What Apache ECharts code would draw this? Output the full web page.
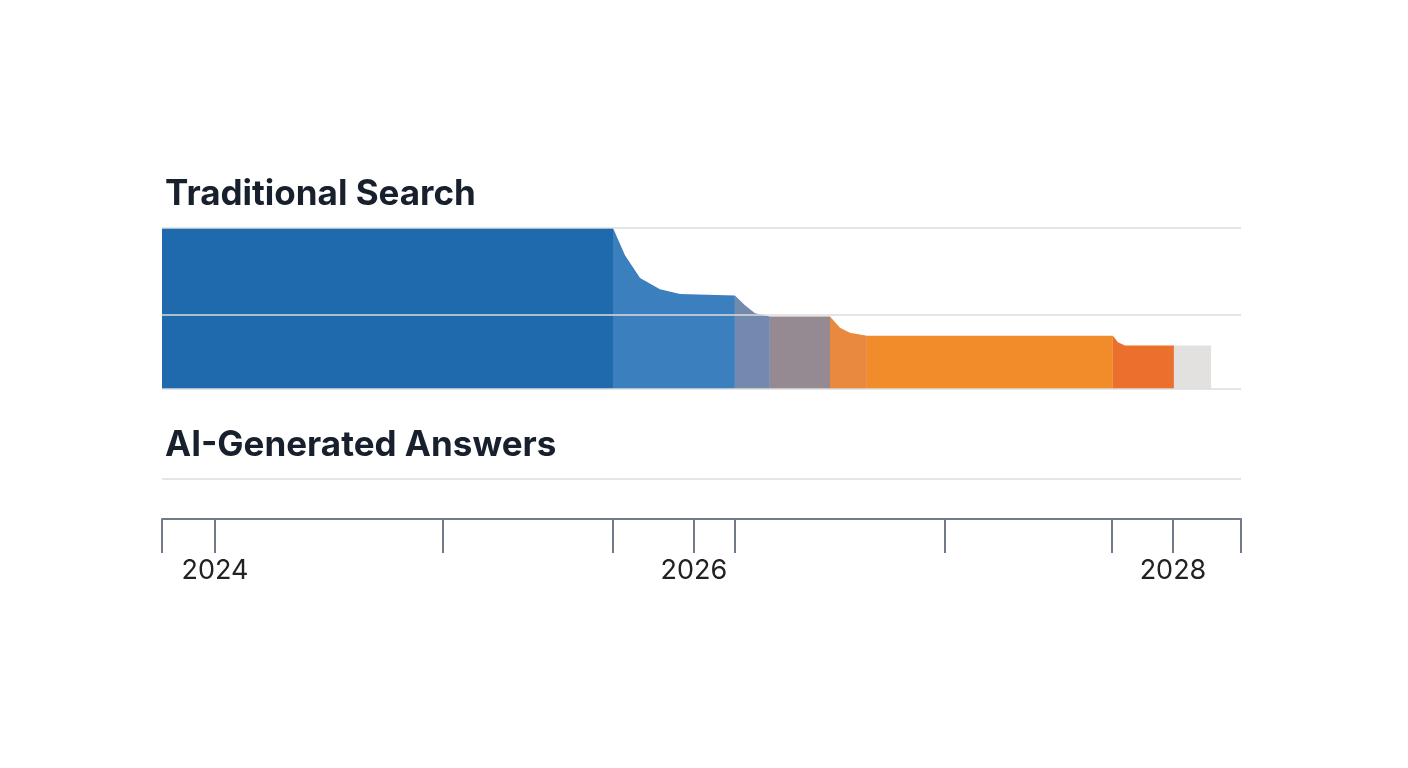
<!DOCTYPE html>
<html>
<head>
<meta charset="utf-8">
<title>Traditional Search vs AI-Generated Answers</title>
<script src="https://cdn.jsdelivr.net/npm/echarts@6/dist/echarts.min.js"></script>
<style>html,body{margin:0;background:#fff}</style>
</head>
<body>
<div id="main" style="width:1408px;height:768px;"></div>
<script type="text/javascript">
// share of traditional search (0-100) over time (years), one array per coloured stage
var stageBlue    = [[2023.779, 100], [2025.662, 100]];
var stageDrop1   = [[2025.662, 100], [2025.712, 83], [2025.775, 69], [2025.858, 62], [2025.942, 59], [2026.171, 58]];
var stageDrop2   = [[2026.171, 58], [2026.213, 52], [2026.255, 47], [2026.317, 45]];
var stageGrey    = [[2026.317, 45], [2026.568, 45]];
var stageDrop3   = [[2026.568, 45], [2026.610, 38], [2026.651, 35], [2026.722, 33]];
var stageOrange  = [[2026.722, 33], [2027.749, 33]];
var stageDrop4   = [[2027.749, 33], [2027.770, 29], [2027.800, 27], [2028.004, 27]];
var stageFaded   = [[2028.004, 27], [2028.159, 27]];
var stageColors  = ['#1f69ad', '#3b7fbf', '#7389ad', '#958a91', '#e8893f', '#f08c2a', '#eb6f2d', '#e3e1df'];

var tickYears  = [2023.779, 2024, 2024.952, 2025.662, 2026, 2026.171, 2027.048, 2027.745, 2028, 2028.284];
var labelYears = [2024, 2026, 2028];
var xMin = 2023.779, xMax = 2028.284;

var stages = [stageBlue, stageDrop1, stageDrop2, stageGrey, stageDrop3, stageOrange, stageDrop4, stageFaded];

var series = stages.map(function (d, i) {
    return {
        type: 'line', xAxisIndex: 0, yAxisIndex: 0, data: d,
        symbol: 'none', lineStyle: { width: 0 },
        areaStyle: { color: stageColors[i], opacity: 1 },
        silent: true, z: 3
    };
});
// horizontal guide lines in the top panel
series.push({
    type: 'line', xAxisIndex: 0, yAxisIndex: 0, data: [],
    markLine: {
        silent: true, symbol: 'none', label: { show: false },
        lineStyle: { color: '#dcdcdc', type: 'solid', width: 1.5 },
        data: [{ yAxis: 0 }, { yAxis: 46 }, { yAxis: 100 }]
    }, z: 1
});

var myChart = echarts.init(document.getElementById('main'));
myChart.setOption({
    backgroundColor: '#fff',
    animation: false,
    title: [
        { text: 'Traditional Search', left: 160, top: 172,
          textStyle: { fontFamily: 'Inter', fontSize: 35, fontWeight: 'bold', color: '#17202c' } },
        { text: 'AI-Generated Answers', left: 160, top: 423,
          textStyle: { fontFamily: 'Inter', fontSize: 35, fontWeight: 'bold', color: '#17202c' } }
    ],
    grid: [
        { left: 162, right: 167, top: 228, bottom: 379 },
        { left: 162, right: 167, top: 479, bottom: 249 }
    ],
    xAxis: [
        { gridIndex: 0, type: 'value', min: xMin, max: xMax, show: false },
        { gridIndex: 1, type: 'value', min: xMin, max: xMax,
          axisLine: { show: true, lineStyle: { color: '#717a88', width: 2 } },
          axisTick: { show: true, customValues: tickYears, length: 34, lineStyle: { color: '#717a88', width: 2 } },
          axisLabel: { customValues: labelYears, margin: 38, fontFamily: 'Inter', fontSize: 27, color: '#222',
                       formatter: function (v) { return String(Math.round(v)); } },
          splitLine: { show: false } }
    ],
    yAxis: [
        { gridIndex: 0, type: 'value', min: 0, max: 100, show: false },
        { gridIndex: 1, type: 'value', min: 0, max: 1, interval: 1,
          axisLine: { show: false }, axisTick: { show: false }, axisLabel: { show: false },
          splitLine: { show: true, lineStyle: { color: '#dcdcdc', width: 1.5 } } }
    ],
    series: series
});
</script>
</body>
</html>
